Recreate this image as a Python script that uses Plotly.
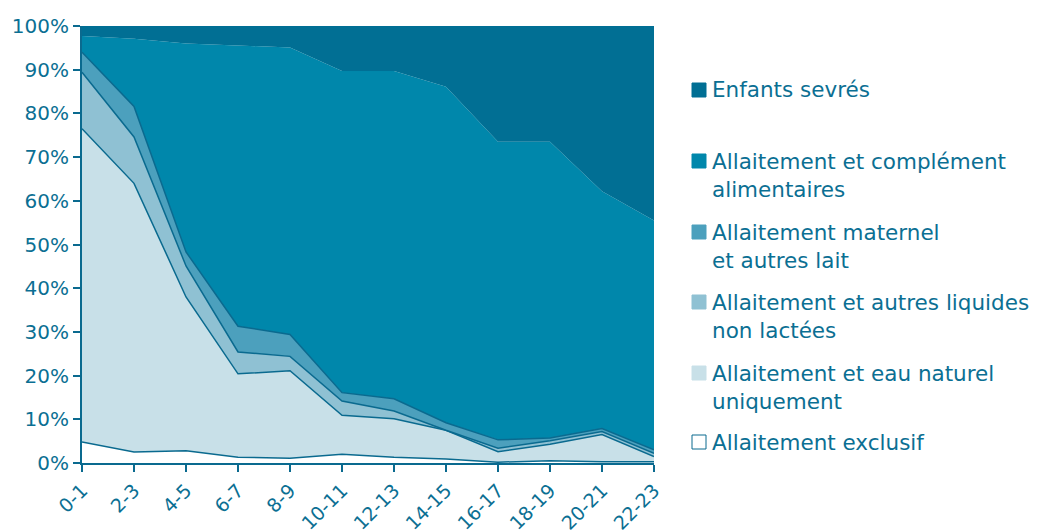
import plotly.graph_objects as go

categories = ["0-1", "2-3", "4-5", "6-7", "8-9", "10-11", "12-13", "14-15", "16-17", "18-19", "20-21", "22-23"]
exclusif = [4.8, 2.5, 2.8, 1.3, 1.1, 2.0, 1.3, 0.9, 0.2, 0.5, 0.3, 0.3]
eau = [71.7, 61.5, 35.2, 19.1, 20.0, 8.9, 8.8, 6.6, 2.4, 3.8, 6.2, 1.2]
liquides = [12.9, 10.6, 7.1, 5.0, 3.3, 3.3, 1.8, 0.0, 0.8, 0.8, 0.7, 0.7]
lait = [4.6, 7.0, 3.2, 5.9, 5.0, 1.9, 2.8, 1.7, 1.9, 0.6, 0.7, 0.8]
complement = [3.7, 15.5, 47.7, 64.3, 65.7, 73.6, 75.0, 76.9, 68.2, 67.8, 54.3, 52.5]
sevres = [2.3, 2.9, 4.0, 4.4, 4.9, 10.3, 10.3, 13.9, 26.5, 26.5, 37.8, 44.5]
y_ticks = [0, 10, 20, 30, 40, 50, 60, 70, 80, 90, 100]
y_tick_labels = [f"{v}%" for v in y_ticks]

series = [
    ("Allaitement exclusif", exclusif, "#ffffff", 1.5),
    ("Allaitement et eau naturel uniquement", eau, "#c8e0e8", 1.5),
    ("Allaitement et autres liquides non lactées", liquides, "#8fc1d3", 1.5),
    ("Allaitement maternel et autres lait", lait, "#4ca0bd", 1.5),
    ("Allaitement et complément alimentaires", complement, "#0087ab", 0),
    ("Enfants sevrés", sevres, "#016f94", 0),
]

TEXT = "#0b6f93"
LINE = "#0a6a8f"
FONT = "DejaVu Sans"

fig = go.Figure()
for name, vals, col, lw in series:
    fig.add_trace(go.Scatter(
        x=categories, y=vals, name=name, stackgroup="one", mode="lines",
        line=dict(color=LINE if lw else col, width=lw if lw else 0.1),
        fillcolor=col, hoverinfo="skip", showlegend=False,
    ))

# page offset of 8px (body margin)
OFF = 8
W, H = 1037 - OFF, 530 - OFF
L, R, T, B = 82 - OFF, 654 - OFF, 26 - OFF, 463 - OFF
fig.update_layout(
    width=W, height=H,
    margin=dict(l=L, r=W - R, t=T, b=H - B),
    paper_bgcolor="white", plot_bgcolor="white",
    font=dict(family=FONT, color=TEXT, size=20),
    xaxis=dict(
        type="category", range=[0, len(categories) - 1], automargin=False,
        tickangle=-45, ticks="outside", ticklen=7, tickwidth=1.5, tickcolor=LINE,
        showline=True, linecolor=LINE, linewidth=2, showgrid=False,
        tickfont=dict(size=19, color=TEXT, family=FONT),
    ),
    yaxis=dict(
        range=[0, 100], tickvals=y_ticks, ticktext=y_tick_labels, automargin=False,
        ticks="outside", ticklen=7, tickwidth=1.5, tickcolor=LINE,
        showline=True, linecolor=LINE, linewidth=2, showgrid=False,
        tickfont=dict(size=20, color=TEXT, family=FONT),
    ),
)

legend_items = [
    (["Enfants sevrés"], "#016f94", 90),
    (["Allaitement et complément", "alimentaires"], "#0087ab", 161),
    (["Allaitement maternel", "et autres lait"], "#4ca0bd", 232),
    (["Allaitement et autres liquides", "non lactées"], "#8fc1d3", 302),
    (["Allaitement et eau naturel", "uniquement"], "#c8e0e8", 373),
    (["Allaitement exclusif"], "#ffffff", 442),
]
PW, PH = R - L, B - T
for lines, col, ypx in legend_items:
    ypx -= OFF
    fig.add_shape(type="rect", xref="paper", yref="paper",
                  x0=(692 - OFF - L) / PW, x1=(706 - OFF - L) / PW,
                  y0=(B - (ypx - 7)) / PH, y1=(B - (ypx + 7)) / PH,
                  fillcolor=col, line=dict(color=LINE if col == "#ffffff" else col, width=1))
    for i, t in enumerate(lines):
        yy = ypx + i * 28
        fig.add_annotation(text=t, xref="paper", yref="paper",
                           x=(710 - OFF - L) / PW, y=(B - yy) / PH,
                           xanchor="left", yanchor="middle", showarrow=False,
                           font=dict(size=21.5, color=TEXT, family=FONT))

fig.write_html("out.html")
